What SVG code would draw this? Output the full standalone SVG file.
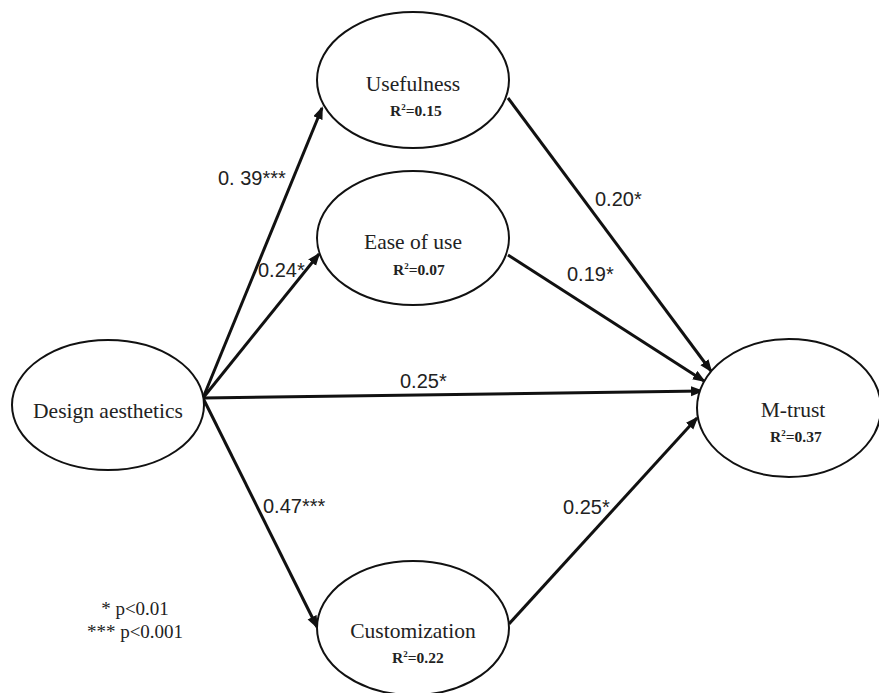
<svg xmlns="http://www.w3.org/2000/svg" width="879" height="693" viewBox="0 0 879 693">
<style>
.node ellipse{fill:#fff;stroke:#111;stroke-width:2}
.lbl{font-family:"Liberation Serif","Times New Roman",serif;font-size:21.5px;fill:#222;text-anchor:middle}
.r2{font-family:"Liberation Serif","Times New Roman",serif;font-size:15.5px;font-weight:bold;fill:#222}
.sup{font-size:9px}
.path{font-family:"Liberation Sans",Arial,sans-serif;font-size:20px;fill:#222}
.leg{font-family:"Liberation Serif","Times New Roman",serif;font-size:19px;fill:#222;text-anchor:middle}
#connectors line{stroke:#111;stroke-width:3;fill:none;marker-end:url(#arrow)}
</style>
<defs>
<marker id="arrow" markerUnits="userSpaceOnUse" markerWidth="14" markerHeight="11" refX="11" refY="5" orient="auto">
<path d="M0,0 L13,5 L0,10 Z" fill="#111"/>
</marker>
</defs>
<rect width="879" height="693" fill="#fff"/>
<g id="connectors">
<line x1="203" y1="398" x2="322" y2="108"/>
<line x1="203" y1="398" x2="319" y2="254"/>
<line x1="203" y1="398" x2="702" y2="391"/>
<line x1="203" y1="398" x2="317" y2="627"/>
<line x1="508" y1="98" x2="711" y2="371"/>
<line x1="508" y1="255" x2="704" y2="381"/>
<line x1="509" y1="624" x2="697" y2="418"/>
</g>
<g id="usefulness" class="node">
<ellipse cx="413" cy="80" rx="96" ry="68"/>
<text class="lbl" x="413" y="91">Usefulness</text>
<text class="r2" x="390" y="116">R<tspan class="sup" dy="-6">2</tspan><tspan dy="6">=0.15</tspan></text>
</g>
<g id="ease" class="node">
<ellipse cx="413" cy="238" rx="96" ry="67"/>
<text class="lbl" x="413" y="249">Ease of use</text>
<text class="r2" x="393" y="275">R<tspan class="sup" dy="-6">2</tspan><tspan dy="6">=0.07</tspan></text>
</g>
<g id="design" class="node">
<ellipse cx="108" cy="405" rx="96" ry="65"/>
<text class="lbl" x="108" y="418">Design aesthetics</text>
</g>
<g id="mtrust" class="node">
<ellipse cx="789" cy="408" rx="92" ry="69"/>
<text class="lbl" x="793" y="417">M-trust</text>
<text class="r2" x="770" y="442">R<tspan class="sup" dy="-6">2</tspan><tspan dy="6">=0.37</tspan></text>
</g>
<g id="customization" class="node">
<ellipse cx="413" cy="628" rx="96" ry="67"/>
<text class="lbl" x="413" y="638">Customization</text>
<text class="r2" x="392" y="663">R<tspan class="sup" dy="-6">2</tspan><tspan dy="6">=0.22</tspan></text>
</g>
<g id="path-labels">
<text class="path" x="218" y="185">0. 39***</text>
<text class="path" x="258" y="277">0.24*</text>
<text class="path" x="400" y="388">0.25*</text>
<text class="path" x="263" y="513">0.47***</text>
<text class="path" x="595" y="206">0.20*</text>
<text class="path" x="567" y="281">0.19*</text>
<text class="path" x="563" y="514">0.25*</text>
</g>
<g id="legend">
<text class="leg" x="135" y="615">* p&lt;0.01</text>
<text class="leg" x="135" y="638">*** p&lt;0.001</text>
</g>
</svg>
